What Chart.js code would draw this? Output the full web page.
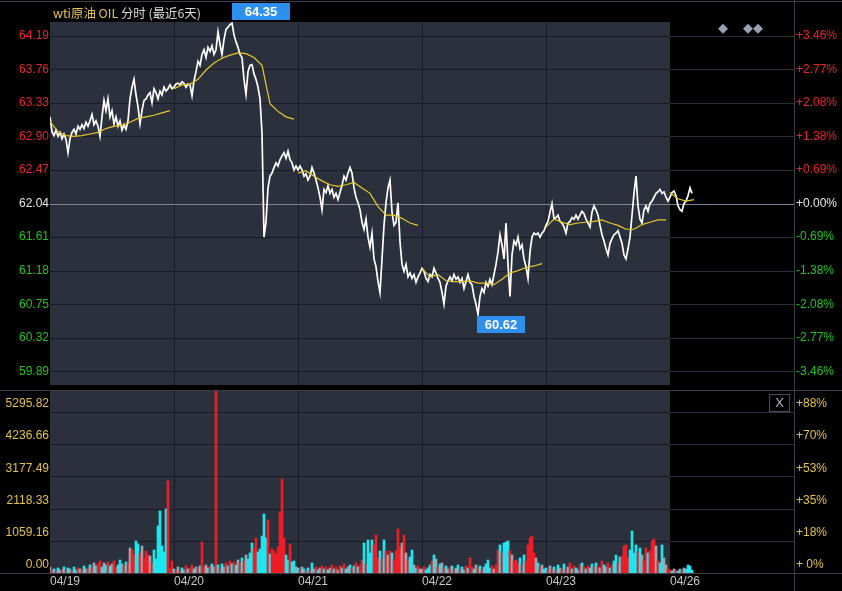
<!DOCTYPE html>
<html><head><meta charset="utf-8">
<script src="https://cdn.jsdelivr.net/npm/chart.js@4/dist/chart.umd.min.js"></script>
<style>
html,body{margin:0;padding:0;background:#000;}
#wrap{position:relative;width:842px;height:591px;overflow:hidden;background:#000;}
#pc{position:absolute;left:0;top:0;}
#vc{position:absolute;left:0;top:390px;}
#title{position:absolute;left:53px;top:4px;font-family:"Noto Sans CJK SC","Liberation Sans",sans-serif;font-size:12.4px;line-height:18px;white-space:nowrap;}
#title .y{color:#e6c35a;}
#title .w{color:#dcdcdc;}
#xbtn{position:absolute;left:769px;top:394px;width:19px;height:16px;border:1px solid #4a4e58;color:#b4b8c2;font:13px "Liberation Sans",Arial,sans-serif;line-height:16px;text-align:center;}
</style></head><body>
<div id="wrap">
<canvas id="pc" width="842" height="390"></canvas>
<canvas id="vc" width="842" height="201"></canvas>
<div id="title"><span class="y">wti原油 OIL</span> <span class="w">分时 (最近6天)</span></div>
<div id="xbtn">X</div>
</div>
<script>
// ---------- data ----------
const days = ['04/19','04/20','04/21','04/22','04/23','04/26'];
const prevClose = 62.04;
const priceTicks = [59.89,60.32,60.75,61.18,61.61,62.04,62.47,62.90,63.33,63.76,64.19];
const pctLabels = ['-3.46%','-2.77%','-2.08%','-1.38%','-0.69%','+0.00%','+0.69%','+1.38%','+2.08%','+2.77%','+3.46%'];
const volTicks = [0,1059.16,2118.33,3177.49,4236.66,5295.82];
const volPctLabels = ['+ 0%','+18%','+35%','+53%','+70%','+88%'];
const volMaxRef = 5985;

const price0419 = [63.15,62.96,62.91,62.98,62.90,62.95,62.87,62.93,62.86,62.69,
 62.87,62.95,62.99,62.93,63.03,62.99,63.05,63.00,63.08,63.03,
 63.10,63.18,63.05,63.10,63.03,62.90,63.15,63.36,63.23,63.38,
 63.15,63.23,63.06,63.15,63.03,63.10,62.98,63.05,62.99,63.10,
 63.38,63.53,63.63,63.43,63.28,63.06,63.23,63.36,63.38,63.43,
 63.46,63.33,63.51,63.46,63.38,63.48,63.43,63.53,63.48,63.51,
 63.56,63.51];
const price0420 = [63.53,63.57,63.58,63.56,63.60,63.58,63.53,63.57,63.56,63.42,
 63.61,63.73,63.86,63.81,63.95,64.01,63.91,64.04,63.99,64.06,
 63.95,64.01,64.24,64.08,63.95,64.14,64.27,64.30,64.33,64.35,
 64.20,64.11,64.04,63.95,63.91,63.63,63.44,63.73,63.81,63.82,
 63.70,63.63,63.53,63.38,62.94,61.61,61.80,62.24,62.39,62.43,
 62.50,62.56,62.52,62.60,62.65,62.69,62.62,62.71,62.60,62.56,
 62.47,62.52];
const price0421 = [62.47,62.52,62.47,62.39,62.42,62.34,62.39,62.50,62.43,62.34,
 62.24,62.12,61.96,62.22,62.18,62.27,62.17,62.22,62.12,62.17,
 62.09,62.18,62.27,62.39,62.34,62.43,62.50,62.43,62.24,62.12,
 62.05,61.96,61.80,61.71,61.84,61.61,61.48,61.66,61.33,61.23,
 61.04,60.90,61.33,61.76,62.05,62.24,62.34,61.93,61.76,61.80,
 62.05,61.55,61.26,61.17,61.26,61.10,61.15,61.08,61.13,61.03,
 61.10,61.15];
const price0422 = [61.21,61.17,61.08,61.04,61.13,61.10,61.21,61.15,61.08,61.03,
 60.90,60.75,60.98,61.05,61.10,61.05,61.13,61.07,61.10,61.03,
 61.08,60.95,61.04,61.13,61.03,61.00,60.85,60.75,60.62,60.85,
 60.95,60.90,61.03,60.98,61.07,61.00,61.13,61.26,61.42,61.64,
 61.51,61.33,61.79,61.26,60.85,61.38,61.56,61.51,61.61,61.46,
 61.51,61.33,61.23,61.08,61.42,61.61,61.66,61.64,61.66,61.61,
 61.66,61.69];
const price0423 = [61.76,61.81,61.93,62.04,61.84,61.86,61.89,61.81,61.79,61.74,
 61.66,61.79,61.81,61.86,61.84,61.89,61.84,61.89,61.94,61.91,
 61.84,61.79,61.74,61.93,62.01,61.96,61.89,61.76,61.64,61.56,
 61.46,61.38,61.53,61.59,61.64,61.66,61.69,61.61,61.53,61.38,
 61.33,61.46,61.61,61.89,62.17,62.39,62.01,61.84,61.79,61.96,
 62.01,61.94,62.04,62.07,62.12,62.17,62.19,62.22,62.17,62.19,
 62.12,62.07];
const price0426 = [62.12,62.18,62.20,62.14,62.01,61.96,61.94,62.04,62.07,62.14,62.24,62.17];

const avg0419 = [63.09,62.96,62.91,62.90,62.91,62.93,62.95,63.00,63.03,63.04,63.08,63.13,63.15,63.17,63.20,63.23];
const avg0420 = [63.51,63.56,63.57,63.63,63.75,63.84,63.90,63.94,63.97,63.96,63.91,63.81,63.32,63.22,63.15,63.12];
const avg0421 = [62.43,62.46,62.39,62.33,62.28,62.26,62.28,62.31,62.24,62.17,62.00,61.89,61.89,61.85,61.79,61.76];
const avg0422 = [61.21,61.10,61.13,61.05,61.04,61.04,61.05,61.02,61.02,61.00,61.07,61.15,61.18,61.22,61.24,61.27];
const avg0423 = [61.74,61.84,61.80,61.77,61.79,61.80,61.81,61.83,61.79,61.76,61.71,61.71,61.77,61.80,61.83,61.83];
const avg0426 = [62.18,62.10,62.07,62.09];

const vol0419 = [198,99,132,66,165,99,132,198,99,165, 132,66,198,99,165,132,99,231,132,165,
 264,198,329,231,297,395,198,329,264,362, 231,297,395,198,264,428,297,231,362,329,
 823,757,592,1053,954,658,888,494,724,592, 559,329,757,461,1546,2040,888,691,2106,3027, 165,395];
const vol0420 = [132,99,198,66,165,99,231,132,165,264, 132,198,165,231,1020,198,264,165,231,297,
 198,5980,264,165,297,198,329,231,395,297, 362,264,428,329,494,395,592,461,658,987,
 823,1152,691,790,1217,1941,1152,1744,625,790, 724,625,855,2007,3093,1152,592,428,954,362, 395,198];
const vol0421 = [165,99,198,132,66,165,99,329,132,198, 99,165,231,132,198,99,165,264,132,198,
 99,231,165,297,132,198,264,165,231,329, 198,264,428,987,297,1086,658,1086,921,1250,
 494,724,461,1086,724,592,724,658,428,724, 1448,855,987,1250,658,428,526,757,264,165, 231,132];
const vol0422 = [132,198,99,165,264,395,592,461,198,297, 329,165,231,132,198,231,99,165,264,132,
 198,99,231,165,494,198,132,264,165,231, 99,198,297,428,165,231,132,264,757,921,
 658,987,1020,1053,724,592,395,428,329,494, 264,592,395,921,1152,1217,658,494,329,198, 264,132];
const vol0423 = [165,99,231,132,198,99,264,165,132,297, 99,198,329,132,231,165,99,264,329,198,
 132,231,165,297,198,329,231,165,395,264, 198,329,165,264,395,592,329,526,559,888,
 921,494,757,1382,658,921,691,823,592,395, 823,658,724,1053,1119,888,395,329,921,494, 264,132];
const vol0426 = [99,66,132,99,66,132,99,165,132,264,231,99];

// r = up (red), c = down (cyan), g = unchanged (grey)
const dir0419 = "grcrcgrcrc"+"grccrgrcgr"+"crgcrrcgcr"+"cgrrccgrcr"+"grrccrgrrr"+"grcccccccr"+"rr";
const dir0420 = "crgrcgrcrr"+"cgrcrrgcrc"+"grcrcgrcrc"+"rcgrcrgccc"+"rrcccccrcr"+"rrrrrrccrc"+"cg";
const dir0421 = "crgcrcrcgr"+"cgrcrcgrcr"+"grcrcgcrcr"+"crrcrcccrr"+"rcrcrgrcrr"+"rrgrgrccgc"+"rg";
const dir0422 = "grcccrcgrc"+"grcgrcrgcr"+"cgrcrrcgrc"+"rgcccrgrrc"+"rcccrgrrrc"+"rcrrrrrgcr"+"gc";
const dir0423 = "crgrcrcgrc"+"rgrcrcgrcr"+"crgcrcrgrc"+"grcrccrcrr"+"rrccccrcgr"+"rcrrrgrccg"+"gr";
const dir0426 = "rcgrccrgcccc";

const markerSlots = [336.5,349,354];
const markerLevel = 64.28;

// ---------- build ----------
const SLOTS = 62, TOTAL = 372, AVG_STEP = 4;
const priceDays = [price0419,price0420,price0421,price0422,price0423,price0426];
const avgDays = [avg0419,avg0420,avg0421,avg0422,avg0423,avg0426];
const volDays = [vol0419,vol0420,vol0421,vol0422,vol0423,vol0426];
const dirDays = [dir0419,dir0420,dir0421,dir0422,dir0423,dir0426];

const pricePts = [];
priceDays.forEach((arr,d)=>arr.forEach((v,i)=>pricePts.push({x:d*SLOTS+i,y:v})));
const avgPts = [];
avgDays.forEach((arr,d)=>{arr.forEach((v,k)=>avgPts.push({x:d*SLOTS+k*AVG_STEP,y:v})); avgPts.push({x:d*SLOTS+SLOTS-1,y:null});});
const volPts = [], volColors = [];
const dirColor = {r:'#f01c26', c:'#1de6ef', g:'#a3a3ab'};
volDays.forEach((arr,d)=>arr.forEach((v,i)=>{volPts.push({x:d*SLOTS+i,y:v}); volColors.push(dirColor[dirDays[d][i]]);}));

const allP = pricePts.map(p=>p.y);
const pMax = Math.max(...allP), pMin = Math.min(...allP);
const dev = Math.max(pMax-prevClose, prevClose-pMin) + 0.015;

Chart.defaults.font.family = '"Liberation Sans", Arial, sans-serif';
Chart.defaults.font.size = 12;

const GREY_BG = '#2b303d', GRID_DARK = '#181b23', GRID_BLACK = '#2c2f37', BORDER = '#3c3f47';
const UP = '#e8242a', DOWN = '#1fc41f', FLAT = '#e6e6e6', VOLC = '#e3c24a';

function fixWidth(w){ return s => { s.width = w; s.paddingTop = 0; s.paddingBottom = 0; }; }
function hline(ctx,x1,x2,y,c){ctx.strokeStyle=c;ctx.lineWidth=1;ctx.beginPath();ctx.moveTo(x1,y);ctx.lineTo(x2,y);ctx.stroke();}
function vline(ctx,x,y1,y2,c){ctx.strokeStyle=c;ctx.lineWidth=1;ctx.beginPath();ctx.moveTo(x,y1);ctx.lineTo(x,y2);ctx.stroke();}

const priceDeco = {
  id:'priceDeco',
  beforeDraw(chart){
    const {ctx, chartArea:a, scales:{x,y}} = chart;
    ctx.save();
    ctx.fillStyle='#000'; ctx.fillRect(0,0,chart.width,chart.height);
    const xl = Math.round(x.getPixelForValue(5*SLOTS));
    ctx.fillStyle=GREY_BG; ctx.fillRect(a.left,a.top,xl-a.left,a.bottom-a.top);
    priceTicks.forEach(v=>{
      if (v===prevClose) return;
      const py = Math.round(y.getPixelForValue(v))+0.5;
      hline(ctx,a.left,xl,py,GRID_DARK);
      hline(ctx,xl,a.right,py,GRID_BLACK);
    });
    for(let d=1; d<5; d++){
      const px = Math.round(x.getPixelForValue(d*SLOTS))+0.5;
      vline(ctx,px,a.top,a.bottom,GRID_DARK);
    }
    const zy = Math.round(y.getPixelForValue(prevClose))+0.5;
    hline(ctx,a.left,a.right,zy,'#7f838c');
    hline(ctx,0,chart.width,1.5,BORDER);
    vline(ctx,Math.round(a.right)+0.5,0,chart.height,BORDER);
    ctx.restore();
  },
  afterDatasetsDraw(chart){
    const {ctx, scales:{x,y}} = chart;
    const iMax = allP.indexOf(pMax), iMin = allP.indexOf(pMin);
    ctx.save();
    ctx.font = 'bold 13px "Liberation Sans", Arial, sans-serif';
    ctx.textAlign='center'; ctx.textBaseline='middle';
    const mx = Math.round(x.getPixelForValue(pricePts[iMax].x));
    ctx.fillStyle='#2d8fee'; ctx.fillRect(mx,3,58,17);
    ctx.fillStyle='#ffffff'; ctx.fillText(pMax.toFixed(2), mx+29, 12);
    const nx = Math.round(x.getPixelForValue(pricePts[iMin].x))-1;
    const ny = Math.round(y.getPixelForValue(pMin))+2;
    ctx.fillStyle='#2d8fee'; ctx.fillRect(nx,ny,48,17);
    ctx.fillStyle='#ffffff'; ctx.fillText(pMin.toFixed(2), nx+24, ny+9);
    ctx.restore();
  }
};

new Chart(document.getElementById('pc'), {
  type:'line',
  data:{datasets:[
    {data: markerSlots.map(s=>({x:s,y:markerLevel})), type:'scatter', pointStyle:'rectRot', pointRadius:5, pointBackgroundColor:'#9aa1b4', pointBorderWidth:0, showLine:false},
    {data: avgPts, borderColor:'#e8c828', borderWidth:1.2, pointRadius:0, spanGaps:false, tension:0},
    {data: pricePts, borderColor:'#ffffff', borderWidth:1.7, pointRadius:0, tension:0}
  ]},
  options:{
    responsive:false, animation:false, events:[],
    layout:{padding:{top:22,bottom:1,left:0,right:0}},
    plugins:{legend:{display:false},tooltip:{enabled:false}},
    scales:{
      x:{type:'linear', min:0, max:TOTAL, display:false},
      y:{position:'left', min:prevClose-dev, max:prevClose+dev,
        afterBuildTicks:s=>{s.ticks = priceTicks.map(v=>({value:v}));},
        afterFit:fixWidth(50),
        ticks:{padding:1, autoSkip:false, callback:v=>v.toFixed(2),
          color:c=>c.tick.value>prevClose+1e-6?UP:(c.tick.value<prevClose-1e-6?DOWN:FLAT)},
        grid:{display:false, drawTicks:false}, border:{display:false}},
      y2:{position:'right', min:prevClose-dev, max:prevClose+dev,
        afterBuildTicks:s=>{s.ticks = priceTicks.map(v=>({value:v}));},
        afterFit:fixWidth(48),
        ticks:{padding:2, autoSkip:false, callback:(v,i)=>pctLabels[i],
          color:c=>c.tick.value>prevClose+1e-6?UP:(c.tick.value<prevClose-1e-6?DOWN:FLAT)},
        grid:{display:false, drawTicks:false}, border:{display:false}}
    }
  },
  plugins:[priceDeco]
});

const volDeco = {
  id:'volDeco',
  beforeDraw(chart){
    const {ctx, chartArea:a, scales:{x,y}} = chart;
    ctx.save();
    ctx.fillStyle='#000'; ctx.fillRect(0,0,chart.width,chart.height);
    const xl = Math.round(x.getPixelForValue(5*SLOTS));
    ctx.fillStyle=GREY_BG; ctx.fillRect(a.left,a.top,xl-a.left,a.bottom-a.top);
    volTicks.forEach(v=>{
      if (v===0) return;
      const py = Math.round(y.getPixelForValue(v))+0.5;
      hline(ctx,a.left,xl,py,GRID_DARK);
      hline(ctx,xl,a.right,py,GRID_BLACK);
    });
    for(let d=1; d<5; d++){
      const px = Math.round(x.getPixelForValue(d*SLOTS))+0.5;
      vline(ctx,px,a.top,a.bottom,GRID_DARK);
    }
    hline(ctx,0,chart.width,0.5,BORDER);
    hline(ctx,0,chart.width,Math.round(a.bottom)+0.5,BORDER);
    vline(ctx,Math.round(a.right)+0.5,0,chart.height,BORDER);
    ctx.restore();
  }
};

new Chart(document.getElementById('vc'), {
  type:'bar',
  data:{datasets:[{data:volPts, backgroundColor:volColors, barThickness:2, borderWidth:0}]},
  options:{
    responsive:false, animation:false, events:[],
    layout:{padding:{top:1,bottom:0,left:0,right:0}},
    plugins:{legend:{display:false},tooltip:{enabled:false}},
    scales:{
      x:{type:'linear', min:0, max:TOTAL, offset:false,
        afterBuildTicks:s=>{s.ticks = days.map((d,i)=>({value:i*SLOTS}));},
        afterFit:s=>{s.height=18; s.paddingLeft=0; s.paddingRight=0;},
        ticks:{align:'start', padding:1, maxRotation:0, autoSkip:false, color:'#c9c9c9', callback:(v,i)=>days[i]},
        grid:{display:false, drawTicks:false, offset:false}, border:{display:false}},
      y:{position:'left', min:0, max:volMaxRef,
        afterBuildTicks:s=>{s.ticks = volTicks.map(v=>({value:v}));},
        afterFit:fixWidth(50),
        ticks:{padding:1, labelOffset:-8, autoSkip:false, color:VOLC, callback:v=>v.toFixed(2)},
        grid:{display:false, drawTicks:false}, border:{display:false}},
      y2:{position:'right', min:0, max:volMaxRef,
        afterBuildTicks:s=>{s.ticks = volTicks.map(v=>({value:v}));},
        afterFit:fixWidth(48),
        ticks:{padding:2, labelOffset:-8, autoSkip:false, color:VOLC, callback:(v,i)=>volPctLabels[i]},
        grid:{display:false, drawTicks:false}, border:{display:false}}
    }
  },
  plugins:[volDeco]
});
</script>
</body></html>
